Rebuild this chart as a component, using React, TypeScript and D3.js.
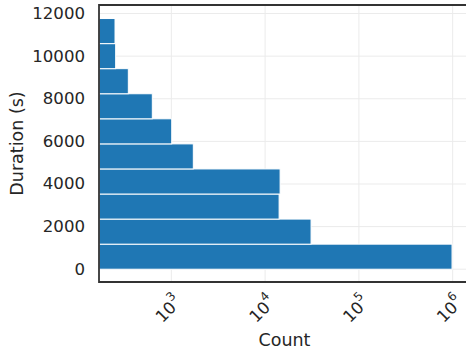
import React, { useRef, useEffect } from 'react';
import * as d3 from 'd3';

// duration bins (s) and how many runs fell in each
const binEdges = [0, 1176, 2353, 3529, 4706, 5882, 7059, 8235, 9412, 10588, 11765];
const counts = [984000, 30900, 14100, 14450, 1716, 1010, 627, 348, 255, 251];
const yTicks = [0, 2000, 4000, 6000, 8000, 10000, 12000];
const xTickExps = [3, 4, 5, 6];

const W = 466;
const H = 353;
const FONT = 'DejaVu Sans, sans-serif';

export default function App() {
  const ref = useRef<SVGSVGElement | null>(null);

  useEffect(() => {
    if (!ref.current) return;
    const svg = d3.select(ref.current);
    svg.selectAll('*').remove();

    const left = 99, right = 470, top = 5, bottom = 282;

    const x = d3.scaleLog().domain([169.4, 1.53e6]).range([left, right]);
    const y = d3.scaleLinear().domain([-600, 12400]).range([bottom, top]);

    const g = svg.append('g');

    // grid
    g.selectAll('line.gx')
      .data(xTickExps)
      .join('line')
      .attr('x1', d => x(Math.pow(10, d)))
      .attr('x2', d => x(Math.pow(10, d)))
      .attr('y1', top)
      .attr('y2', bottom)
      .attr('stroke', '#ebebeb')
      .attr('stroke-width', 1);

    g.selectAll('line.gy')
      .data(yTicks)
      .join('line')
      .attr('x1', left)
      .attr('x2', right)
      .attr('y1', d => y(d))
      .attr('y2', d => y(d))
      .attr('stroke', '#ebebeb')
      .attr('stroke-width', 1);

    // bars
    g.selectAll('rect.bar')
      .data(counts)
      .join('rect')
      .attr('x', left)
      .attr('y', (_, i) => y(binEdges[i + 1]))
      .attr('width', d => x(d) - left)
      .attr('height', (_, i) => y(binEdges[i]) - y(binEdges[i + 1]))
      .attr('fill', '#1f77b4')
      .attr('stroke', '#ffffff')
      .attr('stroke-width', 1);

    // spines
    g.append('line')
      .attr('x1', left).attr('x2', right)
      .attr('y1', top).attr('y2', top)
      .attr('stroke', '#333').attr('stroke-width', 1.8);
    g.append('line')
      .attr('x1', left).attr('x2', right)
      .attr('y1', bottom).attr('y2', bottom)
      .attr('stroke', '#333').attr('stroke-width', 1.8);
    g.append('line')
      .attr('x1', left).attr('x2', left)
      .attr('y1', top - 0.9).attr('y2', bottom + 0.9)
      .attr('stroke', '#333').attr('stroke-width', 1.8);

    // y tick labels
    g.selectAll('text.yt')
      .data(yTicks)
      .join('text')
      .attr('x', left - 14)
      .attr('y', d => y(d))
      .attr('text-anchor', 'end')
      .attr('dominant-baseline', 'central')
      .attr('font-family', FONT)
      .attr('font-size', 16.6)
      .attr('fill', '#262626')
      .text(d => String(d));

    // x tick labels, rotated
    const xt = g.selectAll('text.xt')
      .data(xTickExps)
      .join('text')
      .attr('transform', d => `translate(${x(Math.pow(10, d)) - 3}, 309) rotate(-45)`)
      .attr('text-anchor', 'middle')
      .attr('dominant-baseline', 'central')
      .attr('font-family', FONT)
      .attr('font-size', 16.6)
      .attr('fill', '#262626');
    xt.append('tspan').text('10');
    xt.append('tspan')
      .attr('font-size', 12)
      .attr('dy', -7)
      .text(d => String(d));

    // axis labels
    g.append('text')
      .attr('x', (left + right) / 2)
      .attr('y', 346)
      .attr('text-anchor', 'middle')
      .attr('font-family', FONT)
      .attr('font-size', 17.5)
      .attr('fill', '#262626')
      .text('Count');

    g.append('text')
      .attr('transform', `translate(23, ${(top + bottom) / 2}) rotate(-90)`)
      .attr('text-anchor', 'middle')
      .attr('font-family', FONT)
      .attr('font-size', 17.5)
      .attr('fill', '#262626')
      .text('Duration (s)');
  }, []);

  return (
    <svg
      ref={ref}
      width={W}
      height={H}
      style={{ position: 'absolute', left: 0, top: 0, background: '#fff' }}
    />
  );
}
